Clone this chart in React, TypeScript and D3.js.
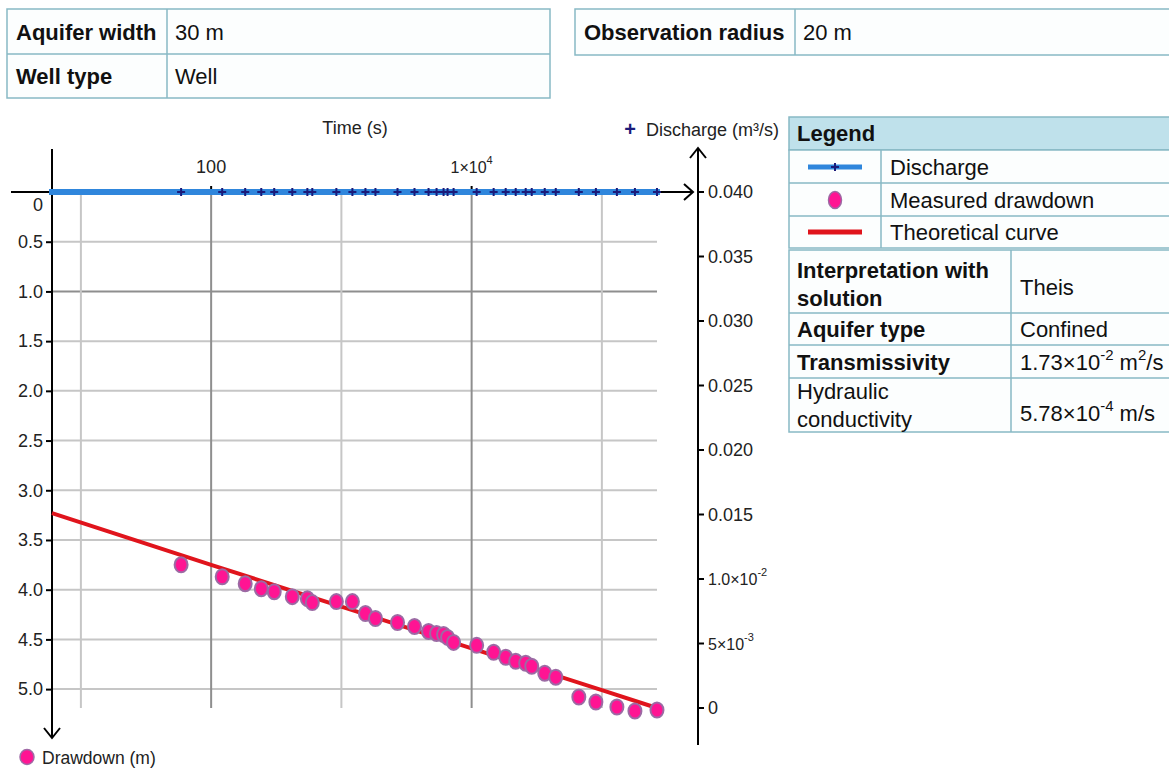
import React, { useEffect, useRef } from "react";
import * as d3 from "d3";

const timeS = [
  58.8, 121.6, 182.6, 242.6, 305, 420, 548, 598, 915, 1215, 1530, 1826, 2697,
  3642, 4670, 5380, 6090, 6535, 7270, 10930, 14760, 18260, 21800, 26010, 28940,
  36420, 44260, 66530, 89950, 130400, 179400, 264900,
];
const drawdownM = [
  3.75, 3.87, 3.94, 3.99, 4.02, 4.07, 4.09, 4.13, 4.12, 4.12, 4.24, 4.29, 4.33,
  4.37, 4.42, 4.44, 4.45, 4.48, 4.53, 4.56, 4.63, 4.68, 4.72, 4.74, 4.77, 4.84,
  4.88, 5.08, 5.13, 5.18, 5.22, 5.21,
];
const dischargeM3s = [
  0.04, 0.04, 0.04, 0.04, 0.04, 0.04, 0.04, 0.04, 0.04, 0.04, 0.04, 0.04, 0.04,
  0.04, 0.04, 0.04, 0.04, 0.04, 0.04, 0.04, 0.04, 0.04, 0.04, 0.04, 0.04, 0.04,
  0.04, 0.04, 0.04, 0.04, 0.04, 0.04,
];

// theoretical (Theis) curve
const theoryTime = [6, 100, 1000, 10000, 100000, 265000];
const theoryDrawdown = [3.23, 3.75, 4.17, 4.59, 5.01, 5.19];

// axes
const drawdownTicks = [0, 0.5, 1.0, 1.5, 2.0, 2.5, 3.0, 3.5, 4.0, 4.5, 5.0];
const dischargeTicks = [0, 0.005, 0.01, 0.015, 0.02, 0.025, 0.03, 0.035, 0.04];
const dischargeLabels = [
  ["0"],
  ["5×10", "-3"],
  ["1.0×10", "-2"],
  ["0.015"],
  ["0.020"],
  ["0.025"],
  ["0.030"],
  ["0.035"],
  ["0.040"],
];
const gridTimes = [10, 100, 1000, 10000, 100000];
const timeTicks = [100, 10000];
const timeLabels = [["100"], ["1×10", "4"]];

// tables
const topLeftRows = [
  ["Aquifer width", "30 m"],
  ["Well type", "Well"],
];
const topRightRows = [["Observation radius", "20 m"]];
const legendItems = ["Discharge", "Measured drawdown", "Theoretical curve"];

const FONT = "'Liberation Sans', Arial, sans-serif";
const BORDER = "#88b9c5";
const PINK = "#ff1493";
const BLUE = "#2f86dc";
const NAVY = "#1b1b7a";
const RED = "#e0141c";

function addSup(sel, parts, supSize = 12) {
  sel.append("tspan").text(parts[0]);
  if (parts[1]) {
    sel.append("tspan").attr("dy", -7).attr("font-size", supSize).text(parts[1]);
  }
}

export default function App() {
  const svgRef = useRef(null);

  useEffect(() => {
    const svg = d3.select(svgRef.current);
    svg.selectAll("*").remove();
    svg.attr("font-family", FONT);

    // Scales
    const x = d3.scaleLog().domain([6, 265000]).range([52, 657]);
    const yL = d3.scaleLinear().domain([0, 5.19]).range([192, 708]);
    const yR = d3.scaleLinear().domain([0, 0.04]).range([708, 192]);

    const [x0, x1] = x.range();
    const [yTop, yBot] = [yL(0), yL(5.19)];

    // Grid
    const grid = svg.append("g");
    grid
      .selectAll("line.h")
      .data(drawdownTicks.filter((d) => d > 0))
      .enter()
      .append("line")
      .attr("x1", x0)
      .attr("x2", x1)
      .attr("y1", (d) => yL(d))
      .attr("y2", (d) => yL(d))
      .attr("stroke", (d) => (d === 1.0 ? "#8e8e8e" : "#c6c6c6"))
      .attr("stroke-width", 2);
    grid
      .selectAll("line.v")
      .data(gridTimes)
      .enter()
      .append("line")
      .attr("x1", (d) => x(d))
      .attr("x2", (d) => x(d))
      .attr("y1", yTop)
      .attr("y2", yBot)
      .attr("stroke", (d) => (timeTicks.includes(d) ? "#8e8e8e" : "#c6c6c6"))
      .attr("stroke-width", 2);

    // Axis lines
    const axes = svg.append("g").attr("stroke", "#000").attr("stroke-width", 2).attr("fill", "none");
    axes.append("line").attr("x1", x0).attr("x2", x0).attr("y1", 149).attr("y2", 738);
    axes.append("polyline").attr("points", `${x0 - 8},728 ${x0},738 ${x0 + 8},728`);
    axes.append("line").attr("x1", 11).attr("x2", 693).attr("y1", yTop).attr("y2", yTop);
    axes.append("polyline").attr("points", `684,184 693,${yTop} 684,200`);
    axes.append("line").attr("x1", 698).attr("x2", 698).attr("y1", 148).attr("y2", 745);
    axes.append("polyline").attr("points", `690,158 698,148 706,158`);

    // Left axis ticks
    const leftAxis = d3
      .axisLeft(yL)
      .tickValues(drawdownTicks.filter((d) => d > 0))
      .tickSize(6)
      .tickPadding(3)
      .tickFormat(d3.format(".1f"));
    const la = svg.append("g").attr("transform", `translate(${x0},0)`).call(leftAxis);
    la.select(".domain").remove();
    la.selectAll("line").attr("stroke", "#000").attr("stroke-width", 2);
    la.selectAll("text").attr("font-size", 18).attr("font-family", FONT).attr("fill", "#222");
    svg
      .append("text")
      .attr("x", 43)
      .attr("y", yTop + 13)
      .attr("text-anchor", "end")
      .attr("dominant-baseline", "central")
      .attr("font-size", 18)
      .attr("fill", "#222")
      .text("0");

    // Right axis ticks
    const ra = svg.append("g");
    ra.selectAll("line")
      .data(dischargeTicks)
      .enter()
      .append("line")
      .attr("x1", 698)
      .attr("x2", 704)
      .attr("y1", (d) => yR(d))
      .attr("y2", (d) => yR(d))
      .attr("stroke", "#000")
      .attr("stroke-width", 2);
    dischargeTicks.forEach((d, i) => {
      const t = ra
        .append("text")
        .attr("x", 708)
        .attr("y", yR(d))
        .attr("dominant-baseline", "central")
        .attr("font-size", i === 1 || i === 2 ? 16 : 18)
        .attr("fill", "#222");
      addSup(t, dischargeLabels[i], 11);
    });

    // Top time ticks
    timeTicks.forEach((d, i) => {
      svg
        .append("line")
        .attr("x1", x(d))
        .attr("x2", x(d))
        .attr("y1", yTop - 6)
        .attr("y2", yTop)
        .attr("stroke", "#000")
        .attr("stroke-width", 2);
      const t = svg
        .append("text")
        .attr("x", x(d))
        .attr("y", 167)
        .attr("text-anchor", "middle")
        .attr("dominant-baseline", "central")
        .attr("font-size", i === 1 ? 16 : 18)
        .attr("fill", "#222");
      addSup(t, timeLabels[i], 11);
    });

    // Axis titles
    svg
      .append("text")
      .attr("x", 355)
      .attr("y", 128)
      .attr("text-anchor", "middle")
      .attr("dominant-baseline", "central")
      .attr("font-size", 18)
      .attr("fill", "#222")
      .text("Time (s)");
    svg
      .append("text")
      .attr("x", 630)
      .attr("y", 129)
      .attr("text-anchor", "middle")
      .attr("dominant-baseline", "central")
      .attr("font-size", 20)
      .attr("font-weight", "bold")
      .attr("fill", NAVY)
      .text("+");
    svg
      .append("text")
      .attr("x", 646)
      .attr("y", 130)
      .attr("dominant-baseline", "central")
      .attr("font-size", 18)
      .attr("fill", "#222")
      .text("Discharge (m³/s)");
    svg
      .append("ellipse")
      .attr("cx", 27)
      .attr("cy", 757)
      .attr("rx", 7)
      .attr("ry", 7.5)
      .attr("fill", PINK)
      .attr("stroke", "#a06aa6")
      .attr("stroke-width", 1.5);
    svg
      .append("text")
      .attr("x", 42)
      .attr("y", 758)
      .attr("dominant-baseline", "central")
      .attr("font-size", 17.5)
      .attr("fill", "#222")
      .text("Drawdown (m)");

    // Theoretical curve
    const theory = theoryTime.map((t, i) => [t, theoryDrawdown[i]]);
    svg
      .append("path")
      .datum(theory)
      .attr("fill", "none")
      .attr("stroke", RED)
      .attr("stroke-width", 4)
      .attr(
        "d",
        d3
          .line()
          .x((d) => x(d[0]))
          .y((d) => yL(d[1]))
      );

    // Discharge line + markers
    const discharge = timeS.map((t, i) => [t, dischargeM3s[i]]);
    svg
      .append("line")
      .attr("x1", x0)
      .attr("x2", x(timeS[timeS.length - 1]))
      .attr("y1", yR(0.04))
      .attr("y2", yR(0.04))
      .attr("stroke", BLUE)
      .attr("stroke-width", 6)
      .attr("stroke-linecap", "square");
    svg
      .append("g")
      .selectAll("path")
      .data(discharge)
      .enter()
      .append("path")
      .attr("d", (d) => {
        const cx = x(d[0]);
        const cy = yR(d[1]);
        return `M${cx - 4},${cy}H${cx + 4}M${cx},${cy - 4}V${cy + 4}`;
      })
      .attr("stroke", NAVY)
      .attr("stroke-width", 2);

    // Measured drawdown
    svg
      .append("g")
      .selectAll("ellipse")
      .data(timeS.map((t, i) => [t, drawdownM[i]]))
      .enter()
      .append("ellipse")
      .attr("cx", (d) => x(d[0]))
      .attr("cy", (d) => yL(d[1]))
      .attr("rx", 6.5)
      .attr("ry", 7.5)
      .attr("fill", PINK)
      .attr("stroke", "#9c6aa4")
      .attr("stroke-width", 2);

    // ---------- Tables ----------
    const tables = svg.append("g");

    function cellText(x, y, text, bold) {
      return tables
        .append("text")
        .attr("x", x)
        .attr("y", y)
        .attr("dominant-baseline", "central")
        .attr("font-size", 22)
        .attr("font-weight", bold ? "bold" : "normal")
        .attr("fill", "#111")
        .text(text);
    }
    function hLine(x1, x2, y) {
      tables.append("line").attr("x1", x1).attr("x2", x2).attr("y1", y).attr("y2", y).attr("stroke", BORDER).attr("stroke-width", 1.5);
    }
    function vLine(x, y1, y2) {
      tables.append("line").attr("x1", x).attr("x2", x).attr("y1", y1).attr("y2", y2).attr("stroke", BORDER).attr("stroke-width", 1.5);
    }

    // top-left
    tables.append("rect").attr("x", 7).attr("y", 9).attr("width", 543).attr("height", 89).attr("fill", "#fcfefe").attr("stroke", BORDER).attr("stroke-width", 1.5);
    hLine(7, 550, 54);
    vLine(167, 9, 98);
    topLeftRows.forEach((r, i) => {
      cellText(16, 32 + i * 44, r[0], true);
      cellText(175, 32 + i * 44, r[1], false);
    });

    // top-right
    tables.append("rect").attr("x", 575).attr("y", 9).attr("width", 620).attr("height", 46).attr("fill", "#fcfefe").attr("stroke", BORDER).attr("stroke-width", 1.5);
    vLine(795, 9, 55);
    topRightRows.forEach((r) => {
      cellText(584, 32, r[0], true);
      cellText(803, 32, r[1], false);
    });

    // legend
    const lx = 789;
    const rEdge = 1200;
    tables.append("rect").attr("x", lx).attr("y", 117).attr("width", rEdge - lx).attr("height", 33).attr("fill", "#bfe1eb").attr("stroke", BORDER).attr("stroke-width", 1.5);
    cellText(797, 133, "Legend", true);
    tables.append("rect").attr("x", lx).attr("y", 150).attr("width", rEdge - lx).attr("height", 98).attr("fill", "#fcfefe").attr("stroke", BORDER).attr("stroke-width", 1.5);
    hLine(lx, rEdge, 183);
    hLine(lx, rEdge, 216);
    vLine(881, 150, 248);
    const rowC = [167, 200, 232];
    legendItems.forEach((t, i) => cellText(890, rowC[i], t, false));
    tables.append("line").attr("x1", 808).attr("x2", 862).attr("y1", rowC[0]).attr("y2", rowC[0]).attr("stroke", BLUE).attr("stroke-width", 5);
    tables.append("path").attr("d", `M831,${rowC[0]}H839M835,${rowC[0] - 4}V${rowC[0] + 4}`).attr("stroke", NAVY).attr("stroke-width", 2);
    tables.append("ellipse").attr("cx", 835).attr("cy", rowC[1]).attr("rx", 6.5).attr("ry", 8.5).attr("fill", PINK).attr("stroke", "#9c6aa4").attr("stroke-width", 1.5);
    tables.append("line").attr("x1", 808).attr("x2", 862).attr("y1", rowC[2]).attr("y2", rowC[2]).attr("stroke", RED).attr("stroke-width", 5);

    // interpretation table
    tables.append("rect").attr("x", lx).attr("y", 250).attr("width", rEdge - lx).attr("height", 182).attr("fill", "#fcfefe").attr("stroke", BORDER).attr("stroke-width", 1.5);
    hLine(lx, rEdge, 313);
    hLine(lx, rEdge, 345);
    hLine(lx, rEdge, 378);
    vLine(1011, 250, 432);
    cellText(797, 270, "Interpretation with", true);
    cellText(797, 298, "solution", true);
    cellText(1020, 287, "Theis", false);
    cellText(797, 329, "Aquifer type", true);
    cellText(1020, 329, "Confined", false);
    cellText(797, 362, "Transmissivity", true);
    const tv = cellText(1020, 362, "", false);
    tv.append("tspan").text("1.73×10");
    tv.append("tspan").attr("dy", -8).attr("font-size", 15).text("-2");
    tv.append("tspan").attr("dy", 8).text(" m");
    tv.append("tspan").attr("dy", -8).attr("font-size", 15).text("2");
    tv.append("tspan").attr("dy", 8).text("/s");
    cellText(797, 391, "Hydraulic", false);
    cellText(797, 419, "conductivity", false);
    const kv = cellText(1020, 413, "", false);
    kv.append("tspan").text("5.78×10");
    kv.append("tspan").attr("dy", -8).attr("font-size", 15).text("-4");
    kv.append("tspan").attr("dy", 8).text(" m/s");
  }, []);

  return (
    <svg
      ref={svgRef}
      width={1169}
      height={771}
      style={{ position: "absolute", left: 0, top: 0, background: "#fff" }}
    ></svg>
  );
}
